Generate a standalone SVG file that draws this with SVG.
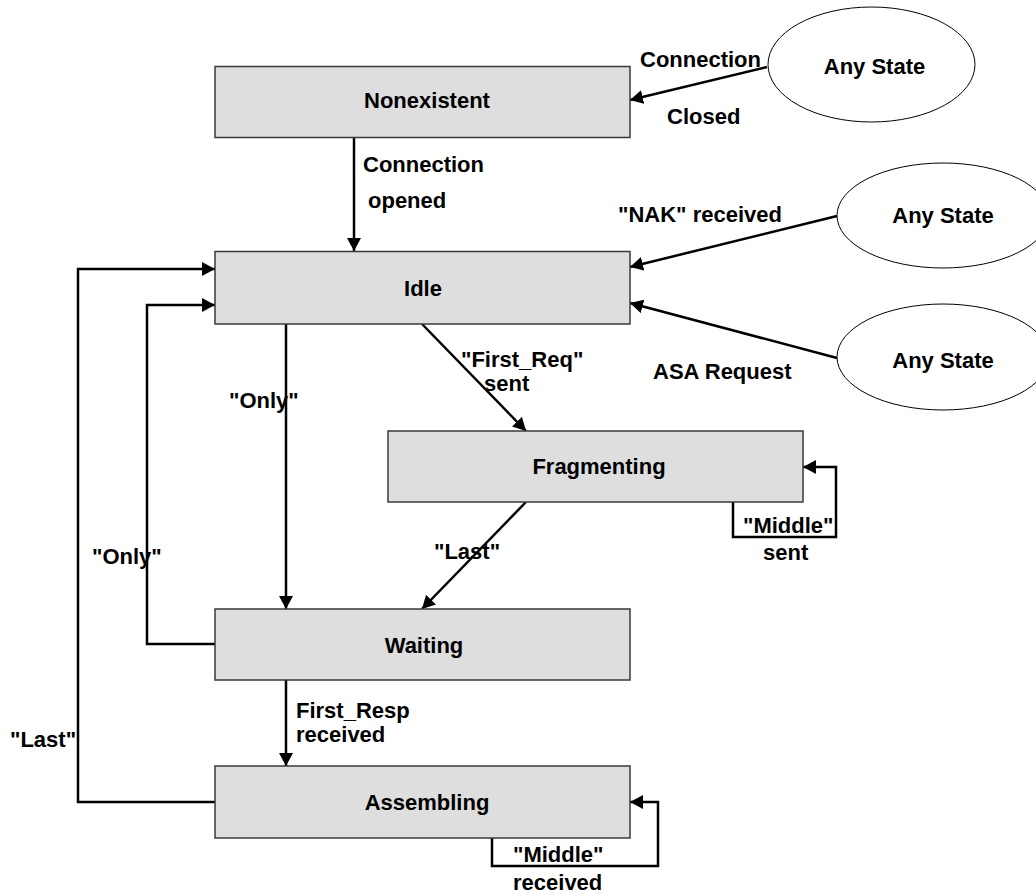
<svg xmlns="http://www.w3.org/2000/svg" width="1036" height="894" viewBox="0 0 1036 894">
  <style>
    .box { fill: #dedede; stroke: #3a3a3a; stroke-width: 1.5; }
    .any { fill: #ffffff; stroke: #000000; stroke-width: 1; }
    .t { font-family: "Liberation Sans", Arial, sans-serif; font-weight: bold; font-size: 22px; fill: #000000; }
    .c { text-anchor: middle; }
    .edge { fill: none; stroke: #000000; stroke-width: 2.5; marker-end: url(#head); }
  </style>
  <defs>
    <marker id="head" markerUnits="userSpaceOnUse" markerWidth="14" markerHeight="14" refX="13" refY="7" orient="auto">
      <path d="M0,0 L13,7 L0,14 Z" fill="#000000"/>
    </marker>
  </defs>
  <rect width="1036" height="894" fill="#ffffff"/>

  <!-- transitions -->
  <g id="connectors">
    <line class="edge" x1="767" y1="67" x2="630" y2="100"/>
    <line class="edge" x1="354" y1="138" x2="354" y2="251"/>
    <line class="edge" x1="837" y1="216" x2="630" y2="267"/>
    <line class="edge" x1="837" y1="358" x2="630" y2="303"/>
    <line class="edge" x1="422" y1="324" x2="526" y2="431"/>
    <line class="edge" x1="526" y1="502" x2="422" y2="609"/>
    <line class="edge" x1="286" y1="324" x2="286" y2="609"/>
    <polyline class="edge" points="215,644 147,644 147,305 215,305"/>
    <polyline class="edge" points="215,802 78,802 78,269 215,269"/>
    <line class="edge" x1="286" y1="680" x2="286" y2="766"/>
    <polyline class="edge" points="733,502 733,537 836,537 836,467 803,467"/>
    <polyline class="edge" points="492,838 492,866 658,866 658,802 630,802"/>
  </g>

  <!-- transition labels -->
  <g id="labels" class="t">
    <text x="640" y="67">Connection</text>
    <text x="667" y="124">Closed</text>
    <text x="363" y="172">Connection</text>
    <text x="368" y="208">opened</text>
    <text x="618" y="222">"NAK" received</text>
    <text x="653" y="379">ASA Request</text>
    <text x="461" y="367">"First_Req"</text>
    <text x="484" y="391">sent</text>
    <text x="229" y="408">"Only"</text>
    <text x="743" y="533">"Middle"</text>
    <text x="763" y="560">sent</text>
    <text x="434" y="559">"Last"</text>
    <text x="92" y="564">"Only"</text>
    <text x="296" y="718">First_Resp</text>
    <text x="296" y="742">received</text>
    <text x="10" y="747">"Last"</text>
    <text x="513" y="862">"Middle"</text>
    <text x="513" y="890">received</text>
  </g>

  <!-- states -->
  <g id="nonexistent">
    <rect class="box" x="215" y="66.5" width="415" height="71"/>
    <text class="t c" x="427" y="108">Nonexistent</text>
  </g>
  <g id="idle">
    <rect class="box" x="215" y="251.5" width="415" height="72.5"/>
    <text class="t c" x="423" y="296">Idle</text>
  </g>
  <g id="fragmenting">
    <rect class="box" x="388" y="431" width="415" height="71"/>
    <text class="t c" x="599" y="474">Fragmenting</text>
  </g>
  <g id="waiting">
    <rect class="box" x="215" y="609" width="415" height="71"/>
    <text class="t c" x="424" y="653">Waiting</text>
  </g>
  <g id="assembling">
    <rect class="box" x="215" y="766" width="415" height="72"/>
    <text class="t c" x="427" y="810">Assembling</text>
  </g>
  <g id="any-state-1">
    <ellipse class="any" cx="871.5" cy="64.5" rx="103.5" ry="57.5"/>
    <text class="t c" x="874.5" y="74">Any State</text>
  </g>
  <g id="any-state-2">
    <ellipse class="any" cx="943" cy="215.5" rx="106" ry="52.5"/>
    <text class="t c" x="943" y="223">Any State</text>
  </g>
  <g id="any-state-3">
    <ellipse class="any" cx="943" cy="357" rx="106" ry="53"/>
    <text class="t c" x="943" y="368">Any State</text>
  </g>
</svg>
